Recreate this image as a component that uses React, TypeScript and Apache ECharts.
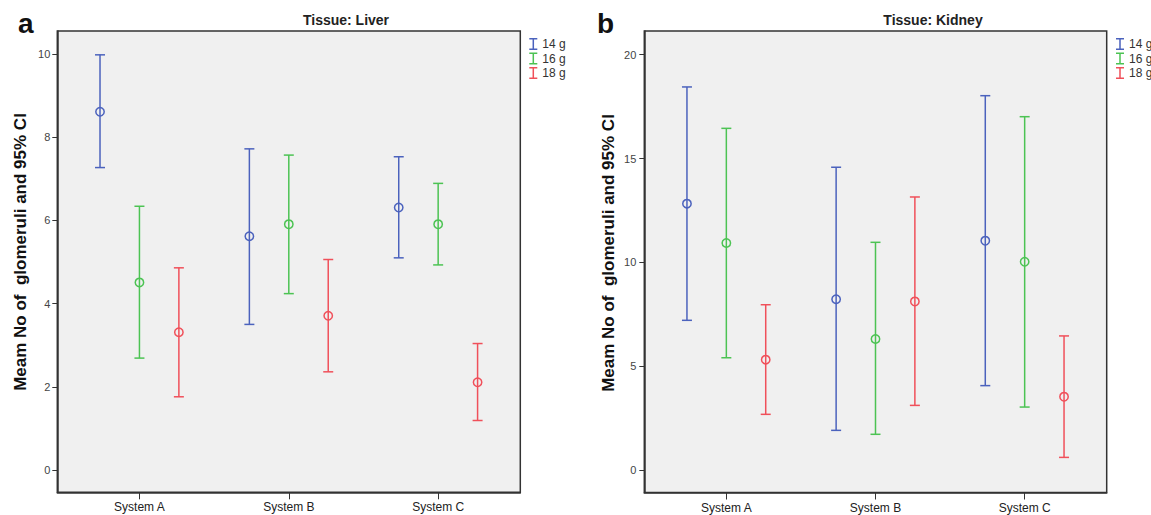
import React, { useEffect, useRef } from "react";
import * as echarts from "echarts";

// ---------- data ----------
const categories = ["System A", "System B", "System C"];
const groups = ["14 g", "16 g", "18 g"];
const colors = ["#4b62bd", "#4cc353", "#f0505a"];
const yTicksLiver = [0, 2, 4, 6, 8, 10];
const yTicksKidney = [0, 5, 10, 15, 20];

// Liver
const liver14Mean = [8.61, 5.62, 6.31];
const liver14Low = [7.27, 3.5, 5.1];
const liver14High = [9.98, 7.72, 7.53];
const liver16Mean = [4.51, 5.91, 5.91];
const liver16Low = [2.69, 4.24, 4.93];
const liver16High = [6.34, 7.57, 6.89];
const liver18Mean = [3.31, 3.71, 2.11];
const liver18Low = [1.76, 2.36, 1.19];
const liver18High = [4.86, 5.06, 3.04];

// Kidney
const kidney14Mean = [12.83, 8.23, 11.05];
const kidney14Low = [7.22, 1.93, 4.08];
const kidney14High = [18.44, 14.58, 18.02];
const kidney16Mean = [10.94, 6.32, 10.04];
const kidney16Low = [5.42, 1.74, 3.05];
const kidney16High = [16.45, 10.97, 17.01];
const kidney18Mean = [5.33, 8.13, 3.55];
const kidney18Low = [2.7, 3.13, 0.63];
const kidney18High = [7.97, 13.15, 6.47];

const liverSets = [
  [liver14Mean, liver14Low, liver14High],
  [liver16Mean, liver16Low, liver16High],
  [liver18Mean, liver18Low, liver18High],
];
const kidneySets = [
  [kidney14Mean, kidney14Low, kidney14High],
  [kidney16Mean, kidney16Low, kidney16High],
  [kidney18Mean, kidney18Low, kidney18High],
];

const groupOffset = [-0.264, 0, 0.264];
const FONT = "'Liberation Sans', Arial, sans-serif";

function renderItem(params: any, api: any) {
  const x = api.value(0);
  const mean = api.value(1);
  const low = api.value(2);
  const high = api.value(3);
  const pH = api.coord([x, high]);
  const pL = api.coord([x, low]);
  const pM = api.coord([x, mean]);
  const color = api.visual("color");
  const cap = 5;
  const st = { stroke: color, lineWidth: 1.5, fill: "none" };
  return {
    type: "group",
    children: [
      { type: "line", shape: { x1: pH[0], y1: pH[1], x2: pL[0], y2: pL[1] }, style: st },
      { type: "line", shape: { x1: pH[0] - cap, y1: pH[1], x2: pH[0] + cap, y2: pH[1] }, style: st },
      { type: "line", shape: { x1: pL[0] - cap, y1: pL[1], x2: pL[0] + cap, y2: pL[1] }, style: st },
      { type: "circle", shape: { cx: pM[0], cy: pM[1], r: 4.2 }, style: st },
    ],
  };
}

function makeSeries(sets: number[][][], gridIdx: number) {
  return sets.map((set, g) => ({
    type: "custom",
    name: groups[g],
    xAxisIndex: gridIdx,
    yAxisIndex: gridIdx,
    itemStyle: { color: colors[g] },
    renderItem,
    encode: { x: 0, y: [1, 2, 3] },
    data: categories.map((_, i) => [i + 1 + groupOffset[g], set[0][i], set[1][i], set[2][i]]),
  }));
}

const legendIcon =
  "path://M0,0L8,0L8,1.5L4.75,1.5L4.75,10.5L8,10.5L8,12L0,12L0,10.5L3.25,10.5L3.25,1.5L0,1.5Z";

function xAxisFor(gridIndex: number) {
  return {
    gridIndex,
    type: "value",
    min: 0.45,
    max: 3.55,
    axisLine: { show: true, onZero: false, lineStyle: { color: "#333", width: 1.5 } },
    axisTick: { show: true, length: 7, customValues: [1, 2, 3], lineStyle: { color: "#333", width: 1 } },
    axisLabel: {
      customValues: [1, 2, 3],
      formatter: (v: number) => categories[Math.round(v) - 1] ?? "",
      fontSize: 12,
      fontFamily: FONT,
      color: "#222",
      margin: 9,
    },
    splitLine: { show: false },
  };
}

function yAxisFor(gridIndex: number, min: number, max: number, ticks: number[], margin: number) {
  return {
    gridIndex,
    type: "value",
    min,
    max,
    axisLine: { show: true, onZero: false, lineStyle: { color: "#333", width: 1.5 } },
    axisTick: { show: true, length: 5, customValues: ticks, lineStyle: { color: "#333", width: 1 } },
    axisLabel: { customValues: ticks, fontSize: 11, fontFamily: FONT, color: "#444", margin },
    splitLine: { show: false },
  };
}

function legendFor(left: number) {
  return {
    data: groups,
    orient: "vertical",
    left,
    top: 33,
    itemWidth: 8,
    itemHeight: 12,
    itemGap: 2.5,
    icon: legendIcon,
    textStyle: { fontSize: 12, fontFamily: FONT, color: "#333" },
    selectedMode: false,
  };
}

export default function App() {
  const ref = useRef<HTMLDivElement>(null);
  useEffect(() => {
    document.body.style.margin = "0";
    if (!ref.current) return;
    const chart = echarts.init(ref.current, null, { renderer: "svg" });
    const yTitle = "Meam No of  glomeruli and 95% CI";
    chart.setOption({
      animation: false,
      backgroundColor: "#ffffff",
      grid: [
        { left: 57.3, top: 31, width: 463, height: 461.3, show: true, backgroundColor: "#f0f0f0", borderColor: "#333", borderWidth: 1.5 },
        { left: 644.3, top: 31, width: 462.4, height: 461.5, show: true, backgroundColor: "#f0f0f0", borderColor: "#333", borderWidth: 1.5 },
      ],
      xAxis: [xAxisFor(0), xAxisFor(1)],
      yAxis: [
        yAxisFor(0, -0.536, 10.553, yTicksLiver, 7),
        yAxisFor(1, -1.058, 21.13, yTicksKidney, 8),
      ],
      legend: [legendFor(524.3), legendFor(1111)],
      series: [...makeSeries(liverSets, 0), ...makeSeries(kidneySets, 1)],
      graphic: [
        { type: "text", x: 18, y: 37, style: { text: "a", font: `bold 28px ${FONT}`, fill: "#111", textVerticalAlign: "bottom" } },
        { type: "text", x: 597, y: 37, style: { text: "b", font: `bold 28px ${FONT}`, fill: "#111", textVerticalAlign: "bottom" } },
        { type: "text", x: 346, y: 19.5, style: { text: "Tissue: Liver", font: `bold 14px ${FONT}`, fill: "#222", textAlign: "center", textVerticalAlign: "middle" } },
        { type: "text", x: 933, y: 19.5, style: { text: "Tissue: Kidney", font: `bold 14px ${FONT}`, fill: "#222", textAlign: "center", textVerticalAlign: "middle" } },
        { type: "text", x: 20, y: 252, rotation: Math.PI / 2, style: { text: yTitle, font: `bold 17px ${FONT}`, fill: "#111", textAlign: "center", textVerticalAlign: "middle" } },
        { type: "text", x: 608, y: 253, rotation: Math.PI / 2, style: { text: yTitle, font: `bold 17px ${FONT}`, fill: "#111", textAlign: "center", textVerticalAlign: "middle" } },
      ],
    });
    return () => chart.dispose();
  }, []);
  return <div ref={ref} style={{ width: 1151, height: 515 }} />;
}
